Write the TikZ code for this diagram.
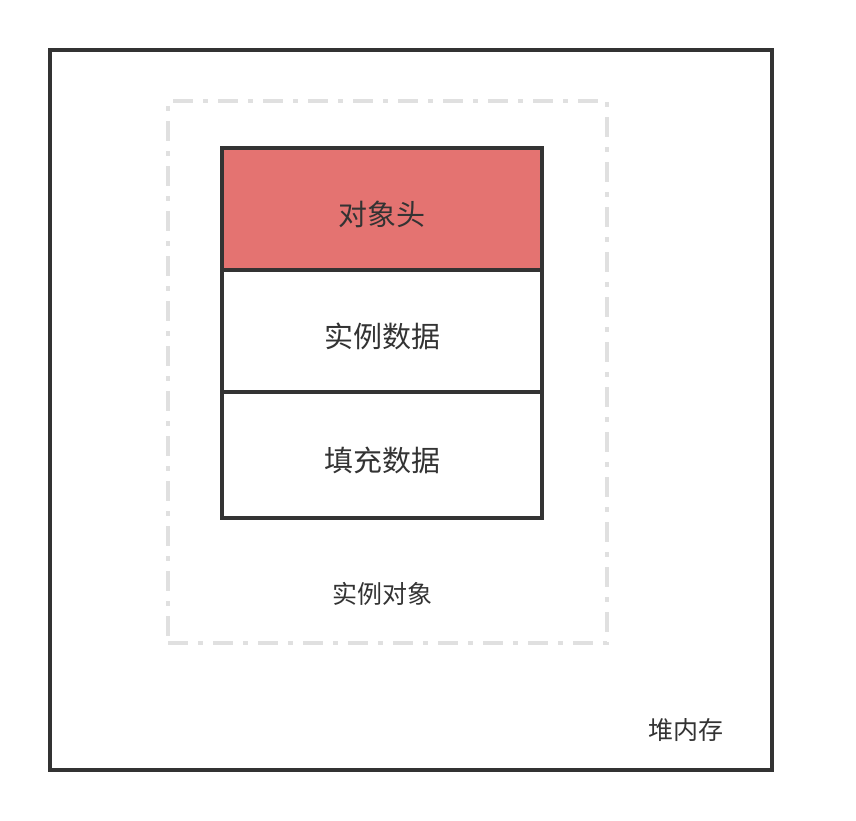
\documentclass[tikz,border=0pt]{standalone}
\usepackage{fontspec}
\setmainfont{Noto Sans CJK SC}
\definecolor{boxred}{HTML}{E47371}
\definecolor{ink}{HTML}{333333}
\definecolor{dashgray}{HTML}{E0E0E0}
\tikzset{
  cell/.style={draw=ink, line width=3.5pt, minimum width=320pt, inner sep=0pt, outer sep=0pt, text height=32pt, text depth=0pt, font=\fontsize{29}{32}\selectfont, text=ink},
  label/.style={inner sep=0pt, font=\fontsize{25}{28}\selectfont, text=ink}
}
\begin{document}
\begin{tikzpicture}[x=1pt,y=-1pt]
\useasboundingbox (0,0) rectangle (856,820);
\node[draw=ink, line width=4pt, minimum width=722pt, minimum height=720pt, inner sep=0pt] (heap) at (411,410){};
\node[draw=dashgray, line width=3.5pt, dash pattern=on 20pt off 10pt on 5pt off 10pt, minimum width=439pt, minimum height=542pt, inner sep=0pt] (obj) at (387.5,372){};
\node[cell, fill=boxred, minimum height=122pt] (header) at (382,209){对象头};
\node[cell, fill=white, minimum height=122pt] (data) at (382,331){实例数据};
\node[cell, fill=white, minimum height=126pt] (padding) at (382,455){填充数据};
\node[label] (objlabel) at (382,594){实例对象};
\node[label] (heaplabel) at (686,730){堆内存};
\end{tikzpicture}
\end{document}
